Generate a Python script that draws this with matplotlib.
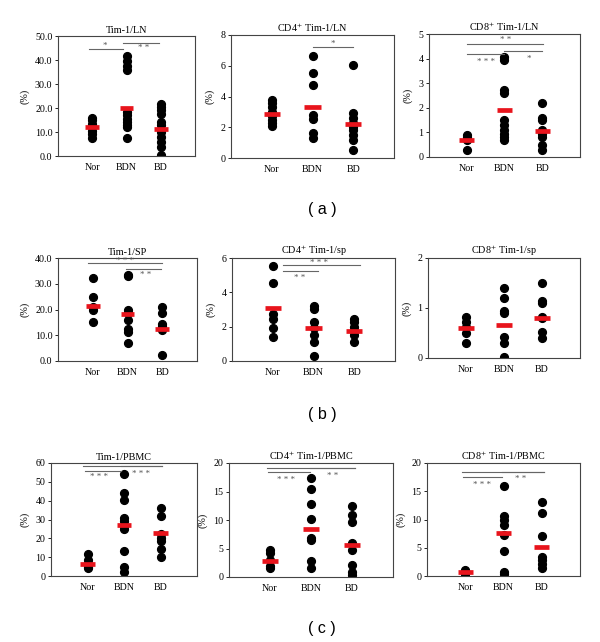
import matplotlib
matplotlib.use('Agg')
import matplotlib.pyplot as plt

plt.rcParams['font.family'] = ['Liberation Serif', 'DejaVu Serif']
plt.rcParams['mathtext.fontset'] = 'stix'

groups = ['Nor', 'BDN', 'BD']

# (a) LN
a1_nor = [16.0, 15.0, 13.5, 12.0, 10.5, 9.0, 7.5]
a1_bdn = [41.5, 39.5, 37.5, 36.0, 18.5, 17.0, 15.5, 14.0, 13.0, 12.0, 7.5]
a1_bd = [21.8, 20.5, 19.0, 17.5, 14.2, 13.0, 10.0, 8.0, 5.8, 3.8, 0.3]
a1_mean = [11.9, 20.1, 11.1]

a2_nor = [3.8, 3.6, 3.3, 3.0, 2.7, 2.5, 2.3, 2.1]
a2_bdn = [6.65, 5.5, 4.75, 2.8, 2.55, 1.6, 1.3]
a2_bd = [6.05, 2.9, 2.6, 2.3, 2.0, 1.8, 1.5, 1.2, 0.55]
a2_mean = [2.83, 3.33, 2.18]

a3_nor = [0.9, 0.8, 0.7, 0.28]
a3_bdn = [4.05, 3.95, 2.72, 2.6, 1.5, 1.3, 1.1, 0.95, 0.8, 0.68]
a3_bd = [2.2, 1.6, 1.5, 1.1, 0.95, 0.8, 0.5, 0.3]
a3_mean = [0.68, 1.9, 1.07]

# (b) SP
b1_nor = [32.2, 25.0, 21.0, 20.0, 15.0]
b1_bdn = [33.5, 33.0, 19.8, 18.5, 16.0, 12.3, 11.3, 7.0]
b1_bd = [20.8, 18.5, 14.3, 13.5, 12.0, 2.5]
b1_mean = [21.4, 18.2, 12.3]

b2_nor = [5.55, 4.55, 2.75, 2.45, 1.9, 1.4]
b2_bdn = [3.2, 3.05, 2.25, 1.9, 1.5, 1.1, 0.3]
b2_bd = [2.45, 2.25, 2.0, 1.75, 1.5, 1.1]
b2_mean = [3.08, 1.9, 1.75]

b3_nor = [0.82, 0.72, 0.62, 0.5, 0.3]
b3_bdn = [1.4, 1.2, 0.93, 0.9, 0.41, 0.3, 0.01]
b3_bd = [1.5, 1.13, 1.1, 0.82, 0.8, 0.51, 0.4]
b3_mean = [0.6, 0.65, 0.8]

# (c) PBMC
c1_nor = [11.5, 8.5, 6.5, 5.0, 4.2]
c1_bdn = [54.0, 44.0, 40.2, 30.8, 29.4, 26.5, 25.0, 13.2, 4.7, 2.0]
c1_bd = [36.2, 31.7, 22.5, 20.4, 18.6, 14.1, 10.0]
c1_mean = [6.6, 27.0, 23.0]

c2_nor = [4.8, 4.2, 3.0, 2.0, 1.5]
c2_bdn = [17.4, 15.5, 12.8, 10.1, 6.8, 6.5, 2.8, 1.6]
c2_bd = [12.5, 10.9, 9.6, 6.0, 4.7, 2.1, 0.8, 0.35]
c2_mean = [2.8, 8.4, 5.7]

c3_nor = [1.0, 0.8, 0.5, 0.3]
c3_bdn = [15.9, 10.6, 9.9, 9.0, 7.2, 4.5, 0.7, 0.3]
c3_bd = [13.1, 11.2, 7.1, 3.4, 2.8, 2.2, 1.4]
c3_mean = [0.7, 7.6, 5.1]

# significance bars: (x start, x end, y, label, label x, label y)
a1_sig = [(0.9, 1.9, 44.6, '*', 1.38, 46.0), (1.9, 2.96, 47.1, '* *', 2.5, 45.2)]
a2_sig = [(2.0, 3.0, 7.24, '*', 2.5, 7.4)]
a3_sig = [(1.0, 3.03, 4.58, '* *', 2.03, 4.75), (1.0, 1.99, 4.18, '* * *', 1.5, 3.85),
          (2.0, 3.0, 4.31, '*', 2.65, 3.98)]
b1_sig = [(0.86, 2.98, 38.0, '* * *', 1.93, 38.9), (1.95, 2.95, 35.8, '* *', 2.52, 33.3)]
b2_sig = [(1.25, 3.15, 5.59, '* * *', 2.14, 5.72), (1.25, 2.1, 5.24, '* *', 1.67, 4.85)]
b3_sig = []
c1_sig = [(0.87, 3.05, 58.2, '', 0, 0), (0.94, 1.91, 55.9, '* * *', 1.32, 52.8),
          (1.91, 3.05, 58.2, '* * *', 2.46, 54.3)]
c2_sig = [(0.92, 3.07, 19.2, '', 0, 0), (0.96, 1.98, 18.4, '* * *', 1.39, 17.0),
          (1.98, 3.07, 19.2, '* *', 2.52, 17.8)]
c3_sig = [(0.92, 3.05, 18.4, '', 0, 0), (0.94, 1.96, 17.5, '* * *', 1.44, 16.1),
          (1.96, 3.05, 18.4, '* *', 2.45, 17.1)]

fig = plt.figure(figsize=(6, 6.42), dpi=100)


def rect(l, r, t, b):
    return [l / 600, 1 - b / 642, (r - l) / 600, (b - t) / 642]


def panel(pos, title, vals, means, ylim, yticks, fmt, sig):
    ax = fig.add_axes(rect(*pos))
    for i, v in enumerate(vals):
        ax.plot([i + 1] * len(v), v, 'o', color='black', ms=5.6, zorder=2)
    ax.hlines(means, [x + 0.8 for x in range(3)], [x + 1.2 for x in range(3)],
              colors='#e8141c', lw=3.4, zorder=3)
    for x1, x2, y, lab, tx, ty in sig:
        ax.plot([x1, x2], [y, y], color='#666666', lw=0.8)
        if lab:
            ax.text(tx, ty, lab, ha='center', va='center', fontsize=6.5, color='#555555')
    ax.set_xlim(0, 4)
    ax.set_ylim(*ylim)
    ax.set_yticks(yticks)
    ax.set_yticklabels([fmt % t for t in yticks], fontsize=7.2)
    ax.set_xticks([1, 2, 3])
    ax.set_xticklabels(groups, fontsize=7.2)
    ax.tick_params(axis='x', length=0, pad=5)
    ax.tick_params(axis='y', length=2, width=0.6, pad=2)
    ax.set_title(title, fontsize=7.3, pad=2)
    ax.set_ylabel('(%)', fontsize=7.3, labelpad=4)
    for s in ax.spines.values():
        s.set_color('#444444')
        s.set_linewidth(0.8)
    return ax


panel((58, 195, 36, 156), 'Tim-1/LN', [a1_nor, a1_bdn, a1_bd], a1_mean,
      (0, 50), [0, 10, 20, 30, 40, 50], '%.1f', a1_sig)
panel((231, 394, 35, 158), 'CD4$^{+}$ Tim-1/LN', [a2_nor, a2_bdn, a2_bd], a2_mean,
      (0, 8), [0, 2, 4, 6, 8], '%d', a2_sig)
panel((429, 580, 34, 157), 'CD8$^{+}$ Tim-1/LN', [a3_nor, a3_bdn, a3_bd], a3_mean,
      (0, 5), [0, 1, 2, 3, 4, 5], '%d', a3_sig)

panel((58, 197, 258, 361), 'Tim-1/SP', [b1_nor, b1_bdn, b1_bd], b1_mean,
      (0, 40), [0, 10, 20, 30, 40], '%.1f', b1_sig)
panel((232, 395, 258, 361), 'CD4$^{+}$ Tim-1/sp', [b2_nor, b2_bdn, b2_bd], b2_mean,
      (0, 6), [0, 2, 4, 6], '%d', b2_sig)
panel((428, 580, 258, 358), 'CD8$^{+}$ Tim-1/sp', [b3_nor, b3_bdn, b3_bd], b3_mean,
      (0, 2), [0, 1, 2], '%d', b3_sig)

panel((51, 197, 463, 576), 'Tim-1/PBMC', [c1_nor, c1_bdn, c1_bd], c1_mean,
      (0, 60), [0, 10, 20, 30, 40, 50, 60], '%d', c1_sig)
panel((229, 393, 463, 577), 'CD4$^{+}$ Tim-1/PBMC', [c2_nor, c2_bdn, c2_bd], c2_mean,
      (0, 20), [0, 5, 10, 15, 20], '%d', c2_sig)
panel((427, 580, 463, 576), 'CD8$^{+}$ Tim-1/PBMC', [c3_nor, c3_bdn, c3_bd], c3_mean,
      (0, 20), [0, 5, 10, 15, 20], '%d', c3_sig)

for lab, y in [('( a )', 210), ('( b )', 415), ('( c )', 628)]:
    fig.text(322 / 600, 1 - y / 642, lab, ha='center', va='center',
             fontsize=11.5, family='Liberation Sans')

fig.savefig('out.png', dpi=100, facecolor='white')
